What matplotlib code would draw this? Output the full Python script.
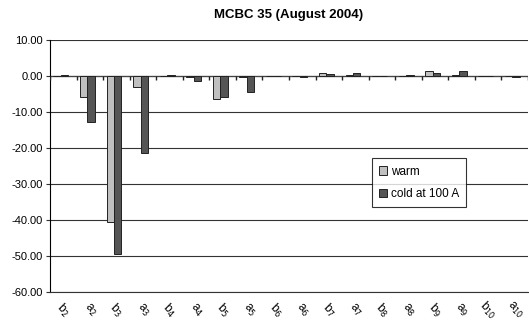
import numpy as np
import matplotlib
matplotlib.use("Agg")
import matplotlib.pyplot as plt

plt.rcParams['font.family'] = ['Liberation Sans', 'DejaVu Sans']

# data
labels = ['b$_2$', 'a$_2$', 'b$_3$', 'a$_3$', 'b$_4$', 'a$_4$', 'b$_5$', 'a$_5$', 'b$_6$',
          'a$_6$', 'b$_7$', 'a$_7$', 'b$_8$', 'a$_8$', 'b$_9$', 'a$_9$', 'b$_{10}$', 'a$_{10}$']
warm = [0.1, -5.9, -40.6, -3.0, 0.1, -0.2, -6.3, -0.2, -0.1,
        -0.1, 0.8, 0.2, 0.1, -0.1, 1.3, 0.2, 0.1, -0.1]
cold = [0.4, -12.7, -49.4, -21.4, 0.4, -1.5, -5.9, -4.5, -0.1,
        -0.2, 0.6, 0.8, -0.1, 0.3, 0.8, 1.3, -0.1, -0.2]

fig = plt.figure(figsize=(5.29, 3.30), dpi=100)
ax = fig.add_axes([50/529, 1-292/330, 478/529, 252/330])

x = np.arange(len(labels))
w = 0.28
ax.bar(x - w + 0.05, warm, w, color='#c0c0c0', edgecolor='#222222', linewidth=0.7,
       label='warm', zorder=3)
ax.bar(x + 0.05, cold, w, color='#555555', edgecolor='#222222', linewidth=0.7,
       label='cold at 100 A', zorder=3)

ax.set_xlim(-0.5, len(labels) - 0.5)
ax.set_ylim(-60, 10)
ax.set_yticks(np.arange(-60, 11, 10))
ax.set_yticklabels(['%.2f' % v for v in np.arange(-60, 11, 10)], fontsize=8)
ax.yaxis.grid(True, color='#333333', linewidth=0.8, zorder=0)
ax.tick_params(axis='y', length=3, width=0.8, color='#333333', pad=2)

# category labels at the bottom, no ticks
ax.set_xticks(x)
ax.set_xticklabels(labels, rotation=-45, ha='center', va='center',
                   rotation_mode='anchor', fontsize=8.5)
ax.tick_params(axis='x', length=0, pad=13)

# zero line with tick marks at category boundaries
ax.axhline(0, color='#444444', linewidth=0.9, zorder=2)
ax.vlines(np.arange(-0.5, len(labels), 1.0), -1.2, 0, color='#222222',
          linewidth=1.0, zorder=4)

for s in ['top', 'right']:
    ax.spines[s].set_visible(False)
ax.spines['left'].set_color('black')
ax.spines['bottom'].set_color('#333333')

fig.text(0.5 + 0.5 * 50/529 - 0.5 * 1/529, 1 - 15/330, 'MCBC 35 (August 2004)',
         fontsize=9.5, fontweight='bold', ha='center', va='center')

leg = ax.legend(loc='upper left', bbox_to_anchor=(0.673, 0.53), fontsize=8.5,
                frameon=True, fancybox=False, edgecolor='black', handlelength=0.7,
                handleheight=0.7, handletextpad=0.3, borderpad=0.6, labelspacing=0.9,
                borderaxespad=0)
leg.get_frame().set_linewidth(0.8)
leg.set_zorder(5)

fig.savefig('out.png', dpi=100)
